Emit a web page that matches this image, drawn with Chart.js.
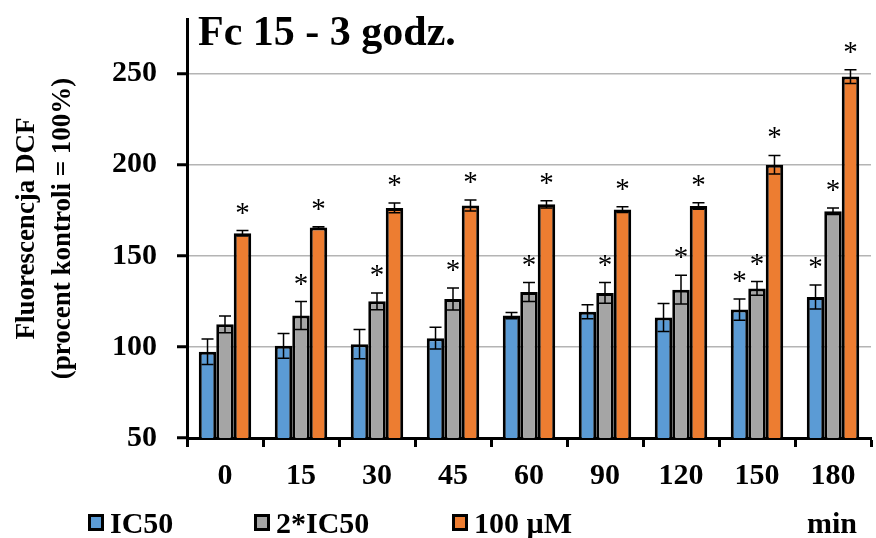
<!DOCTYPE html>
<html>
<head>
<meta charset="utf-8">
<script src="https://cdn.jsdelivr.net/npm/chart.js@4.4.1/dist/chart.umd.min.js"></script>
<style>
  html, body { margin: 0; padding: 0; background: #fff; }
  #wrap { width: 876px; height: 538px; }
</style>
</head>
<body>
<div id="wrap"><canvas id="chart" width="876" height="538"></canvas></div>
<script>
const categories = ['0', '15', '30', '45', '60', '90', '120', '150', '180'];
const ic50 = [97.3, 100.6, 101.5, 104.8, 117.2, 119.3, 116.1, 120.5, 127.4];
const ic50Err = [7, 6.8, 8, 6, 1.7, 3.8, 7.7, 5.8, 6.6];
const ic50x2 = [112.4, 117.2, 125, 126.3, 130.1, 129.6, 131.4, 132.1, 174.5];
const ic50x2Err = [4.6, 7.7, 4.6, 6, 5.2, 5.7, 7.9, 3.8, 1.8];
const um100 = [162.4, 165.5, 176.3, 177.6, 178.3, 175.4, 177.3, 200, 248.4];
const um100Err = [1.5, 0.5, 2.7, 3, 2, 1.6, 1.8, 5.1, 3.8];
// 1 = asterisk over the bar
const ic50Sig = [0, 0, 0, 0, 0, 0, 0, 1, 1];
const ic50x2Sig = [0, 1, 1, 1, 1, 1, 1, 1, 1];
const um100Sig = [1, 1, 1, 1, 1, 1, 1, 1, 1];
const yTicks = [50, 100, 150, 200, 250];

const FONT = "'Liberation Serif', 'Times New Roman', serif";
const errors = [ic50Err, ic50x2Err, um100Err];
const stars = [ic50Sig, ic50x2Sig, um100Sig];

const extras = {
  id: 'extras',
  afterDatasetsDraw(chart) {
    const ctx = chart.ctx;
    const y = chart.scales.y;
    ctx.save();
    chart.data.datasets.forEach((ds, i) => {
      const meta = chart.getDatasetMeta(i);
      meta.data.forEach((bar, j) => {
        const v = ds.data[j];
        const e = errors[i][j];
        const yt = y.getPixelForValue(v + e);
        const yb = y.getPixelForValue(v - e);
        ctx.strokeStyle = '#000';
        ctx.lineWidth = 1.5;
        ctx.beginPath();
        ctx.moveTo(bar.x, yt); ctx.lineTo(bar.x, yb);
        ctx.moveTo(bar.x - 6, yt); ctx.lineTo(bar.x + 6, yt);
        ctx.moveTo(bar.x - 6, yb); ctx.lineTo(bar.x + 6, yb);
        ctx.stroke();
        if (stars[i][j]) {
          ctx.fillStyle = '#000';
          ctx.font = '29px ' + FONT;
          ctx.textAlign = 'center';
          ctx.textBaseline = 'alphabetic';
          ctx.fillText('*', bar.x, yt - 9);
        }
      });
    });
    ctx.restore();
  },
  afterDraw(chart) {
    const ctx = chart.ctx;
    ctx.save();
    ctx.fillStyle = '#000';
    ctx.font = 'bold 42px ' + FONT;
    ctx.textAlign = 'left';
    ctx.textBaseline = 'alphabetic';
    ctx.fillText('Fc 15 - 3 godz.', 198, 45);

    // legend
    const items = [['IC50', 88], ['2*IC50', 254], ['100 µM', 452]];
    ctx.font = 'bold 30px ' + FONT;
    items.forEach((it, i) => {
      ctx.fillStyle = chart.data.datasets[i].backgroundColor;
      ctx.fillRect(it[1] + 1.5, 515.5, 13, 14);
      ctx.strokeStyle = '#000';
      ctx.lineWidth = 3;
      ctx.strokeRect(it[1] + 1.5, 515.5, 13, 14);
      ctx.fillStyle = '#000';
      ctx.fillText(it[0], it[1] + 22, 533);
    });
    ctx.fillText('min', 807, 533);
    ctx.restore();
  }
};

new Chart(document.getElementById('chart'), {
  type: 'bar',
  data: {
    labels: categories,
    datasets: [
      { label: 'IC50', data: ic50, backgroundColor: '#5b9bd5' },
      { label: '2*IC50', data: ic50x2, backgroundColor: '#a5a5a5' },
      { label: '100 µM', data: um100, backgroundColor: '#ed7d31' }
    ]
  },
  options: {
    responsive: false,
    animation: false,
    devicePixelRatio: 1,
    layout: { padding: { left: 0, right: 5, top: 19, bottom: 0 } },
    datasets: {
      bar: {
        borderColor: '#000',
        borderWidth: 3,
        categoryPercentage: 0.69,
        barPercentage: 1
      }
    },
    plugins: {
      legend: { display: false },
      tooltip: { enabled: false }
    },
    scales: {
      x: {
        afterFit(s) { s.height = 100; s.paddingLeft = 0; s.paddingRight = 0; },
        grid: {
          offset: true,
          drawOnChartArea: false,
          tickLength: 9,
          tickColor: '#000',
          tickWidth: 3
        },
        border: { color: '#000', width: 3 },
        ticks: {
          color: '#000',
          padding: 11,
          font: { family: FONT, size: 30, weight: 'bold' }
        }
      },
      y: {
        min: 50,
        max: 280,
        afterBuildTicks(s) { s.ticks = yTicks.map(v => ({ value: v })); },
        afterFit(s) { s.width = 187; s.paddingTop = 0; s.paddingBottom = 0; },
        grid: {
          color: '#b4b4b4',
          lineWidth: 1.5,
          tickLength: 10,
          tickColor: '#000',
          tickWidth: 3
        },
        border: { color: '#000', width: 3 },
        ticks: {
          color: '#000',
          padding: 20,
          font: { family: FONT, size: 30, weight: 'bold' }
        },
        title: {
          display: true,
          text: ['Fluorescencja DCF', '(procent kontroli = 100%)'],
          color: '#000',
          padding: { top: 9, bottom: 0 },
          font: { family: FONT, size: 27, weight: 'bold', lineHeight: 1.333 }
        }
      }
    }
  },
  plugins: [extras]
});
</script>
</body>
</html>
